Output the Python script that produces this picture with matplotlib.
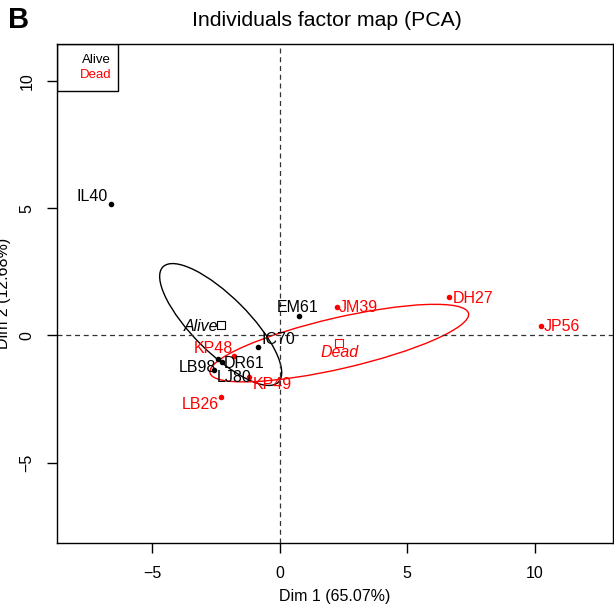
import matplotlib
matplotlib.use('Agg')
import matplotlib.pyplot as plt
from matplotlib.patches import Ellipse, Rectangle

plt.rcParams['font.family'] = ['Liberation Sans', 'DejaVu Sans']

# individuals (Dim 1, Dim 2)
alive_names = ['IL40', 'EM61', 'IC70', 'LJ80', 'DR61', 'LB98']
alive_x = [-6.62, 0.76, -0.84, -2.41, -2.25, -2.56]
alive_y = [5.18, 0.77, -0.45, -0.92, -1.06, -1.35]
dead_names = ['JM39', 'DH27', 'JP56', 'KP48', 'KP49', 'LB26']
dead_x = [2.24, 6.66, 10.23, -1.78, -1.19, -2.30]
dead_y = [1.11, 1.50, 0.39, -0.82, -1.63, -2.43]

# label anchors (text centres)
alive_lab_x = [-7.34, 0.72, -0.06, -1.77, -1.38, -3.22]
alive_lab_y = [5.47, 1.08, -0.17, -1.65, -1.11, -1.26]
dead_lab_x = [3.10, 7.57, 11.06, -2.61, -0.28, -3.12]
dead_lab_y = [1.08, 1.44, 0.35, -0.52, -1.93, -2.71]

# group centres and confidence ellipses
group_names = ['Alive', 'Dead']
group_x = [-2.31, 2.34]
group_y = [0.43, -0.30]
group_lab_x = [-3.08, 2.34]
group_lab_y = [0.34, -0.68]
ell_width = [6.4, 10.4]
ell_height = [2.2, 2.0]
ell_angle = [-45, 13]
group_colors = ['black', 'red']

fig = plt.figure(figsize=(6.14, 6.07), dpi=100)
ax = fig.add_axes([0.0923, 0.1049, 0.9056, 0.8221])
ax.set_xlim(-8.74, 13.06)
ax.set_ylim(-8.16, 11.43)

ax.axhline(0, color='#333333', lw=0.9, ls=(0, (4, 3)))
ax.axvline(0, color='#333333', lw=0.9, ls=(0, (4, 3)))

for i in range(2):
    ax.add_patch(Ellipse((group_x[i], group_y[i]), ell_width[i], ell_height[i],
                         angle=ell_angle[i], fill=False, ec=group_colors[i], lw=1.0))

ax.plot(alive_x, alive_y, 'o', color='black', ms=4, mec='none')
ax.plot(dead_x, dead_y, 'o', color='red', ms=4, mec='none')
for n, x, y in zip(alive_names, alive_lab_x, alive_lab_y):
    ax.text(x, y, n, color='black', fontsize=11.5, ha='center', va='center')
for n, x, y in zip(dead_names, dead_lab_x, dead_lab_y):
    ax.text(x, y, n, color='red', fontsize=11.5, ha='center', va='center')

for i in range(2):
    ax.plot(group_x[i], group_y[i], 's', mfc='white', mec=group_colors[i], ms=5.5, mew=0.8)
    ax.text(group_lab_x[i], group_lab_y[i], group_names[i], color=group_colors[i],
            fontsize=11.5, style='italic', ha='center', va='center')

# legend box
ax.add_patch(Rectangle((0, 1), 0.1108, -0.0930, transform=ax.transAxes,
                       fill=False, ec='black', lw=1.0))
ax.text(0.0978, 0.968, 'Alive', color='black', fontsize=9.5, ha='right', va='center',
        transform=ax.transAxes)
ax.text(0.0978, 0.939, 'Dead', color='red', fontsize=9.5, ha='right', va='center',
        transform=ax.transAxes)

ax.set_xticks([-5, 0, 5, 10])
ax.set_yticks([-5, 0, 5, 10])
ax.set_xticklabels(['\u22125', '0', '5', '10'])
ax.set_yticklabels(['\u22125', '0', '5', '10'], rotation=90, va='center')
ax.tick_params(length=7, width=1.0, labelsize=11.5, pad=9)
for s in ax.spines.values():
    s.set_linewidth(1.0)

ax.set_xlabel('Dim 1 (65.07%)', fontsize=11.5, labelpad=6)
# y label sits half outside the left edge, as in the reference
fig.text(4 / 614, 0.5 * (0.1049 + 0.927), 'Dim 2 (12.68%)', fontsize=11.5,
         rotation=90, ha='center', va='center')

fig.text(327 / 614, 1 - 20 / 607, 'Individuals factor map (PCA)', fontsize=15.3,
         ha='center', va='center')
fig.text(19 / 614, 1 - 20 / 607, 'B', fontsize=21, fontweight='bold',
         ha='center', va='center')

plt.savefig('out.png', dpi=100)
